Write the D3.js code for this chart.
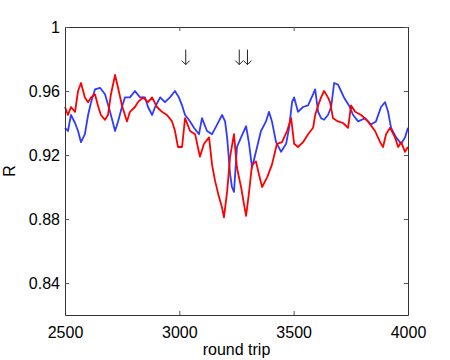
<!DOCTYPE html>
<html>
<head>
<meta charset="utf-8">
<script src="https://cdn.jsdelivr.net/npm/d3@7"></script>
<style>
body { margin: 0; background: #fff; }
text { font-family: "Liberation Sans", Arial, sans-serif; }
</style>
</head>
<body>
<div id="vis"></div>
<script>
// values
var blue_x = [2500,2513,2526,2544,2557,2570,2587,2601,2614,2631,2653,2675,2697,2719,2732,2749,2762,2784,2806,2828,2850,2863,2881,2894,2916,2937,2959,2981,2998,3012,3025,3042,3064,3086,3099,3121,3143,3165,3187,3200,3209,3222,3230,3239,3252,3270,3292,3305,3318,3335,3357,3379,3392,3405,3423,3445,3467,3480,3493,3502,3519,3541,3563,3585,3594,3607,3620,3633,3650,3664,3677,3694,3707,3720,3742,3760,3782,3812,3838,3860,3882,3900,3913,3926,3948,3970,3987,4000];
var blue_y = [0.937,0.935,0.945,0.940,0.935,0.928,0.933,0.945,0.953,0.961,0.962,0.958,0.947,0.935,0.941,0.950,0.956,0.956,0.960,0.956,0.956,0.950,0.945,0.950,0.956,0.953,0.956,0.960,0.956,0.951,0.945,0.942,0.937,0.933,0.943,0.935,0.933,0.939,0.945,0.941,0.931,0.908,0.900,0.897,0.925,0.931,0.938,0.927,0.912,0.922,0.935,0.941,0.947,0.941,0.928,0.922,0.927,0.937,0.953,0.956,0.947,0.950,0.951,0.958,0.961,0.947,0.943,0.942,0.945,0.950,0.965,0.964,0.960,0.956,0.951,0.945,0.941,0.943,0.939,0.941,0.950,0.953,0.947,0.937,0.931,0.927,0.931,0.937];

var red_x = [2500,2513,2526,2544,2557,2570,2587,2601,2614,2631,2644,2657,2675,2688,2701,2719,2732,2749,2771,2784,2806,2819,2841,2863,2881,2902,2924,2946,2968,2981,2994,3012,3025,3047,3069,3090,3108,3130,3143,3156,3173,3187,3195,3209,3222,3239,3252,3270,3283,3292,3305,3318,3335,3348,3362,3384,3405,3427,3449,3471,3489,3502,3519,3541,3563,3585,3594,3607,3620,3633,3650,3659,3672,3694,3716,3738,3751,3769,3795,3825,3856,3878,3891,3904,3922,3943,3957,3970,3987,4000];
var red_y = [0.950,0.945,0.950,0.947,0.960,0.965,0.956,0.953,0.956,0.958,0.951,0.945,0.942,0.945,0.958,0.970,0.962,0.951,0.941,0.947,0.950,0.953,0.956,0.953,0.956,0.950,0.947,0.945,0.941,0.935,0.925,0.925,0.943,0.935,0.933,0.919,0.927,0.931,0.914,0.904,0.894,0.887,0.881,0.897,0.919,0.933,0.912,0.900,0.889,0.882,0.897,0.914,0.916,0.908,0.900,0.906,0.914,0.927,0.928,0.935,0.943,0.927,0.925,0.928,0.933,0.937,0.945,0.951,0.956,0.960,0.956,0.953,0.943,0.941,0.940,0.937,0.951,0.947,0.945,0.941,0.935,0.928,0.925,0.933,0.937,0.931,0.925,0.928,0.922,0.925];

var x_ticks = [2500, 3000, 3500, 4000];
var y_ticks = [0.84, 0.88, 0.92, 0.96, 1];
var arrow_x = [3028, 3262, 3298];

var width = 450, height = 360;
var margin = {left: 65, right: 42, top: 27, bottom: 45};
var w = width - margin.left - margin.right;
var h = height - margin.top - margin.bottom;

var svg = d3.select("#vis").append("svg")
    .attr("width", width)
    .attr("height", height);

var g = svg.append("g")
    .attr("transform", "translate(" + margin.left + "," + margin.top + ")");

var x = d3.scaleLinear().domain([2500, 4000]).range([0, w]);
var y = d3.scaleLinear().domain([0.82, 1]).range([h, 0]);

var line = d3.line()
    .x(function(d) { return x(d[0]); })
    .y(function(d) { return y(d[1]); });

var blue = d3.zip(blue_x, blue_y);
var red = d3.zip(red_x, red_y);

g.append("path").datum(blue)
    .attr("fill", "none")
    .attr("stroke", "#2f3cff")
    .attr("stroke-width", 1.8)
    .attr("stroke-linejoin", "round")
    .attr("d", line);

g.append("path").datum(red)
    .attr("fill", "none")
    .attr("stroke", "#ff0000")
    .attr("stroke-width", 1.8)
    .attr("stroke-linejoin", "round")
    .attr("d", line);

// axes, MATLAB style: ticks inside, box all round
function style_axis(sel) {
    sel.select(".domain").attr("stroke", "#333");
    sel.selectAll(".tick line").attr("stroke", "#555");
    sel.selectAll(".tick text")
        .attr("fill", "#000")
        .style("font-size", "16px")
        .style("font-family", "Liberation Sans, Arial, sans-serif");
}

var xb = g.append("g").attr("transform", "translate(0," + h + ")")
    .call(d3.axisBottom(x).tickValues(x_ticks).tickSizeInner(-4).tickSizeOuter(0).tickPadding(12).tickFormat(d3.format("d")));
style_axis(xb);

var xt = g.append("g")
    .call(d3.axisTop(x).tickValues(x_ticks).tickSizeInner(-4).tickSizeOuter(0).tickFormat(""));
style_axis(xt);

var yl = g.append("g")
    .call(d3.axisLeft(y).tickValues(y_ticks).tickSizeInner(-4).tickSizeOuter(0).tickPadding(5)
        .tickFormat(function(d) { return d === 1 ? "1" : d3.format(".2f")(d); }));
style_axis(yl);

var yr = g.append("g").attr("transform", "translate(" + w + ",0)")
    .call(d3.axisRight(y).tickValues(y_ticks).tickSizeInner(-4).tickSizeOuter(0).tickFormat(""));
style_axis(yr);

// arrows marking events
var arrows = g.selectAll(".arrow")
    .data(arrow_x)
    .enter()
    .append("g")
    .attr("class", "arrow")
    .attr("transform", function(d) { return "translate(" + x(d) + "," + y(0.9765) + ")"; });

arrows.append("line")
    .attr("x1", 0).attr("x2", 0)
    .attr("y1", -15).attr("y2", 0)
    .attr("stroke", "#222")
    .attr("stroke-width", 1);

arrows.append("path")
    .attr("d", "M-4,-4 L0,0 L4,-4")
    .attr("fill", "none")
    .attr("stroke", "#222")
    .attr("stroke-width", 1);

// labels
svg.append("text")
    .attr("x", margin.left + w / 2)
    .attr("y", 355)
    .attr("text-anchor", "middle")
    .style("font-size", "16px")
    .text("round trip");

svg.append("text")
    .attr("transform", "translate(15," + (margin.top + h / 2) + ") rotate(-90)")
    .attr("text-anchor", "middle")
    .style("font-size", "16px")
    .text("R");
</script>
</body>
</html>
